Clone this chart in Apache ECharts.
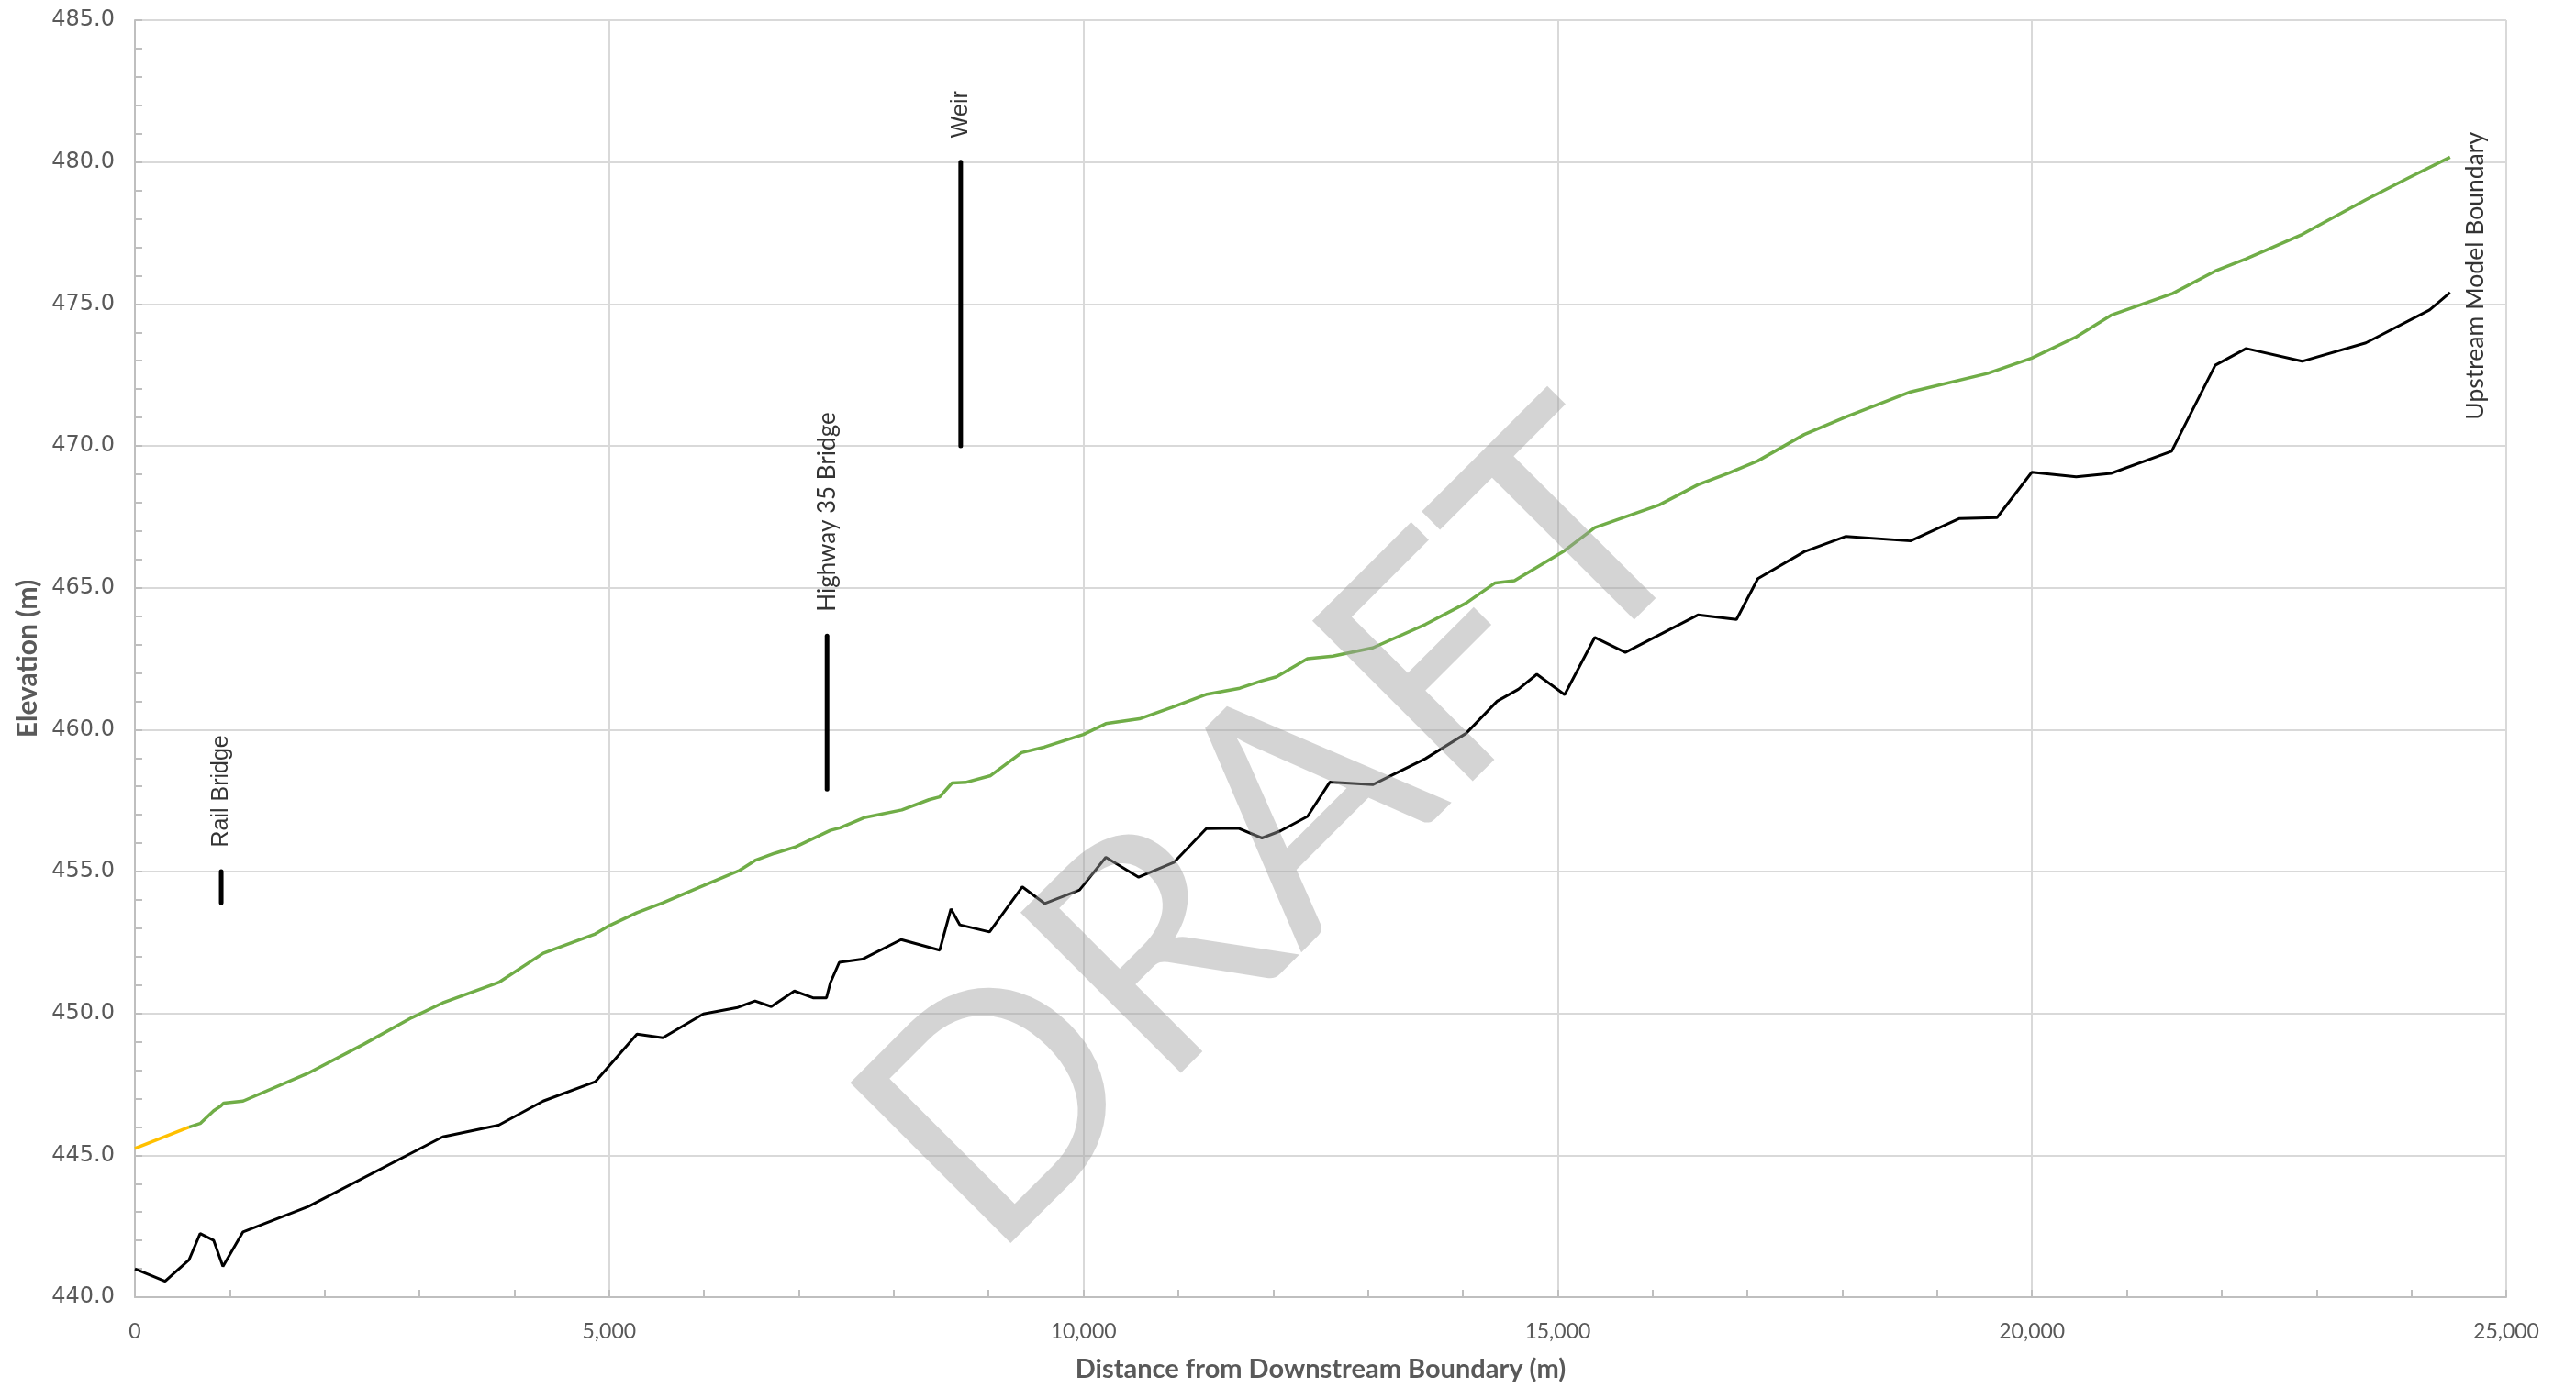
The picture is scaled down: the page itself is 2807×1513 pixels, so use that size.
<!DOCTYPE html>
<html>
<head>
<meta charset="utf-8">
<title>Profile</title>
<script src="https://cdn.jsdelivr.net/npm/echarts@6/dist/echarts.min.js"></script>
<style>
  html, body { margin: 0; padding: 0; background: #fff; }
  #chart { width: 2807px; height: 1513px; }
</style>
</head>
<body>
<div id="chart"></div>
<script>
// Channel bed profile (m)
const bedX = [0, 318, 570, 688, 831, 928, 1140, 1824, 3245, 3835, 4304, 4853, 5293, 5566, 5993,
  6355, 6538, 6709, 6953, 7149, 7291, 7332, 7426, 7670, 8078, 8485, 8603, 8697, 9010, 9356,
  9593, 9959, 10236, 10582, 10957, 11295, 11629, 11882, 12077, 12362, 12597, 13049, 13607,
  14035, 14361, 14585, 14780, 15073, 15391, 15713, 16478, 16885, 17110, 17599, 18039, 18719,
  19236, 19631, 19998, 20466, 20833, 21472, 21932, 22258, 22848, 23520, 24192, 24408]
const bedElev = [441.0, 440.56, 441.31, 442.24, 442.0, 441.08, 442.3, 443.19, 445.65, 446.06, 446.91, 447.59, 449.27, 449.14, 449.98,
  450.21, 450.44, 450.24, 450.79, 450.55, 450.55, 451.08, 451.8, 451.91, 452.6, 452.23, 453.68, 453.12, 452.87, 454.46,
  453.87, 454.35, 455.5, 454.8, 455.33, 456.51, 456.53, 456.18, 456.43, 456.94, 458.15, 458.06, 458.98,
  459.87, 461.0, 461.42, 461.95, 461.23, 463.25, 462.72, 464.04, 463.88, 465.32, 466.27, 466.81, 466.65,
  467.44, 467.47, 469.07, 468.91, 469.03, 469.81, 472.84, 473.43, 472.98, 473.63, 474.79, 475.4]

// Water surface, downstream stretch (yellow)
const wsDownX = [0, 570]
const wsDownElev = [445.24, 445.99]

// Water surface (green)
const wsX = [570, 688, 831, 904, 936, 1140, 1824, 2410, 2919, 3245, 3835, 4304, 4853, 5000, 5293, 5566, 5993,
  6212, 6375, 6538, 6742, 6966, 7149, 7332, 7434, 7699, 8086, 8371, 8485, 8615, 8758, 9022, 9348,
  9593, 10000, 10236, 10591, 10937, 11303, 11649, 11873, 12036, 12362, 12629, 13049, 13607, 14035,
  14340, 14544, 15073, 15391, 16071, 16478, 16804, 17110, 17599, 18046, 18719, 19529, 19998, 20466,
  20833, 21484, 21932, 22258, 22848, 23520, 23968, 24408]
const wsElev = [445.99, 446.12, 446.57, 446.73, 446.84, 446.91, 447.89, 448.91, 449.85, 450.37, 451.09, 452.12, 452.8, 453.09, 453.55, 453.9, 454.5,
  454.81, 455.04, 455.39, 455.64, 455.87, 456.16, 456.45, 456.54, 456.91, 457.17, 457.53, 457.63, 458.12, 458.14, 458.38, 459.19,
  459.39, 459.83, 460.21, 460.38, 460.79, 461.25, 461.46, 461.71, 461.86, 462.5, 462.59, 462.88, 463.71, 464.46,
  465.17, 465.25, 466.31, 467.12, 467.92, 468.63, 469.04, 469.47, 470.4, 471.03, 471.9, 472.55, 473.09, 473.84,
  474.6, 475.37, 476.16, 476.59, 477.45, 478.67, 479.44, 480.17]

// Structures
const structNames = ['Rail Bridge', 'Highway 35 Bridge', 'Weir']
const structX = [910, 7297, 8706]
const structLow = [453.9, 457.9, 470.0]
const structHigh = [455.0, 463.3, 480.0]
const structFont = ['Liberation Sans', 'Lato', 'Liberation Sans']
const structFontSize = [25, 26, 25]

// Upstream boundary note
const boundaryName = 'Upstream Model Boundary'
const boundaryX = 24680
const boundaryElev = 470.9

const el = document.getElementById('chart')
const chart = echarts.init(el, null, { renderer: 'canvas' })

const AXIS_GREY = '#bfbfbf'
const GRID_GREY = '#d9d9d9'
const TEXT_GREY = '#595959'

const zip = (xs, ys) => xs.map((x, i) => [x, ys[i]])

const structSeries = structNames.map((name, i) => ({
  name,
  type: 'line',
  data: [[structX[i], structLow[i]], [structX[i], structHigh[i]]],
  showSymbol: false,
  symbol: 'none',
  lineStyle: { color: '#000', width: 5, cap: 'round' },
  z: 4,
}))

const labelData = structNames.map((name, i) => ({
  value: [structX[i], structHigh[i]],
  label: { formatter: name, fontFamily: structFont[i], fontSize: structFontSize[i], distance: 26 },
}))
labelData.push({
  value: [boundaryX, boundaryElev],
  label: { formatter: boundaryName, fontFamily: 'Lato', fontSize: 26.5, distance: 0 },
})

chart.setOption({
  animation: false,
  backgroundColor: '#fff',
  grid: { left: 147, right: 76, top: 22, bottom: 99, containLabel: false },
  xAxis: {
    type: 'value',
    min: 0,
    max: 25000,
    interval: 5000,
    name: 'Distance from Downstream Boundary (m)',
    nameLocation: 'middle',
    nameGap: 64,
    nameTextStyle: { fontFamily: 'Lato', fontWeight: 'bold', fontSize: 29, color: TEXT_GREY },
    axisLine: { lineStyle: { color: AXIS_GREY, width: 2 } },
    axisTick: { show: true, inside: true, length: 8, lineStyle: { color: AXIS_GREY, width: 2 } },
    minorTick: { show: true, splitNumber: 5, length: 8, lineStyle: { color: AXIS_GREY, width: 2 } },
    axisLabel: {
      margin: 26,
      fontFamily: 'Lato',
      fontSize: 23,
      color: TEXT_GREY,
      formatter: v => v.toLocaleString('en-US'),
    },
    splitLine: { show: true, lineStyle: { color: GRID_GREY, width: 2 } },
  },
  yAxis: {
    type: 'value',
    min: 440,
    max: 485,
    interval: 5,
    name: 'Elevation (m)',
    nameLocation: 'middle',
    nameGap: 98,
    nameTextStyle: { fontFamily: 'Lato', fontWeight: 'bold', fontSize: 30, color: TEXT_GREY },
    axisLine: { show: true, lineStyle: { color: AXIS_GREY, width: 2 } },
    axisTick: { show: true, inside: true, length: 8, lineStyle: { color: AXIS_GREY, width: 2 } },
    minorTick: { show: true, splitNumber: 5, length: 8, lineStyle: { color: AXIS_GREY, width: 2 } },
    axisLabel: {
      margin: 22,
      fontFamily: 'DejaVu Sans',
      fontSize: 24,
      color: TEXT_GREY,
      formatter: v => v.toFixed(1),
    },
    splitLine: { show: true, lineStyle: { color: GRID_GREY, width: 2 } },
  },
  series: [
    {
      name: 'Bed',
      type: 'line',
      data: zip(bedX, bedElev),
      showSymbol: false,
      symbol: 'none',
      lineStyle: { color: '#000', width: 3 },
      z: 3,
    },
    {
      name: 'Water surface (downstream)',
      type: 'line',
      data: zip(wsDownX, wsDownElev),
      showSymbol: false,
      symbol: 'none',
      lineStyle: { color: '#ffc000', width: 3.5 },
      z: 3,
    },
    {
      name: 'Water surface',
      type: 'line',
      data: zip(wsX, wsElev),
      showSymbol: false,
      symbol: 'none',
      lineStyle: { color: '#70ad47', width: 3.5 },
      z: 3,
    },
    ...structSeries,
    {
      name: 'Labels',
      type: 'scatter',
      data: labelData,
      symbolSize: 1,
      itemStyle: { color: 'rgba(0,0,0,0)' },
      label: {
        show: true,
        position: 'top',
        rotate: 90,
        align: 'left',
        verticalAlign: 'middle',
        fontSize: 25,
        color: '#000',
      },
      z: 5,
    },
  ],
  graphic: [
    {
      type: 'text',
      x: 1393,
      y: 906,
      rotation: Math.PI / 4,
      z: 100,
      style: {
        text: 'DRAFT',
        fontFamily: 'Lato',
        fontWeight: 'normal',
        fontSize: 345,
        fill: 'rgba(160,160,160,0.45)',
        align: 'center',
        verticalAlign: 'middle',
      },
    },
  ],
})

window.addEventListener('resize', () => chart.resize())
</script>
</body>
</html>
